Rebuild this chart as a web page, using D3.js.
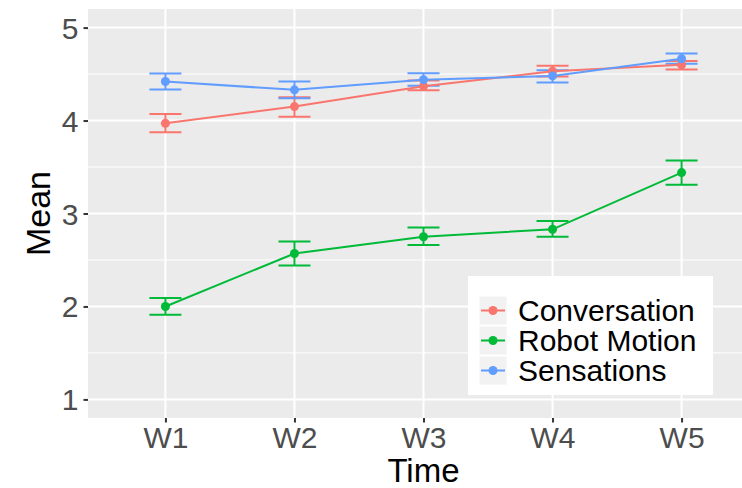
<!DOCTYPE html>
<html>
<head>
<meta charset="utf-8">
<script src="https://cdn.jsdelivr.net/npm/d3@7"></script>
<style>
  body { margin: 0; background: #fff; }
  text { font-family: "Liberation Sans", Arial, sans-serif; }
</style>
</head>
<body>
<div id="chart"></div>
<script>
// data
const weeks = ["W1", "W2", "W3", "W4", "W5"];
const groups = ["Conversation", "Robot Motion", "Sensations"];
const groupColors = ["#F8766D", "#00BA38", "#619CFF"];
const yTicks = [1, 2, 3, 4, 5];

const convMean  = [3.97, 4.15, 4.37, 4.53, 4.60];
const convLow   = [3.875, 4.04, 4.325, 4.475, 4.55];
const convHigh  = [4.07, 4.25, 4.43, 4.59, 4.64];

const robotMean = [2.00, 2.57, 2.75, 2.83, 3.44];
const robotLow  = [1.91, 2.44, 2.66, 2.75, 3.31];
const robotHigh = [2.09, 2.70, 2.85, 2.92, 3.57];

const sensMean  = [4.42, 4.33, 4.44, 4.48, 4.665];
const sensLow   = [4.335, 4.24, 4.375, 4.41, 4.61];
const sensHigh  = [4.505, 4.42, 4.51, 4.54, 4.72];

const series = [
    {name: groups[0], color: groupColors[0], mean: convMean, low: convLow, high: convHigh},
    {name: groups[1], color: groupColors[1], mean: robotMean, low: robotLow, high: robotHigh},
    {name: groups[2], color: groupColors[2], mean: sensMean, low: sensLow, high: sensHigh}
];

const W = 742, H = 488;
const panel = {left: 88, top: 9, right: 759, bottom: 418};

const svg = d3.select("#chart")
              .append("svg")
              .attr("width", W)
              .attr("height", H);

const x = d3.scalePoint().domain(weeks).range([panel.left, panel.right]).padding(0.6);
const y = d3.scaleLinear().domain([0.8, 5.2]).range([panel.bottom, panel.top]);

// panel background
svg.append("rect")
   .attr("x", panel.left)
   .attr("y", panel.top)
   .attr("width", panel.right - panel.left)
   .attr("height", panel.bottom - panel.top)
   .attr("fill", "#EBEBEB");

// minor grid
svg.append("g").selectAll("line")
   .data(yTicks.slice(0, -1).map(d => d + 0.5))
   .join("line")
   .attr("x1", panel.left).attr("x2", panel.right)
   .attr("y1", d => y(d)).attr("y2", d => y(d))
   .attr("stroke", "#fff").attr("stroke-width", 1);

// major grid
svg.append("g").selectAll("line")
   .data(yTicks)
   .join("line")
   .attr("x1", panel.left).attr("x2", panel.right)
   .attr("y1", d => y(d)).attr("y2", d => y(d))
   .attr("stroke", "#fff").attr("stroke-width", 2);

svg.append("g").selectAll("line")
   .data(weeks)
   .join("line")
   .attr("x1", d => x(d)).attr("x2", d => x(d))
   .attr("y1", panel.top).attr("y2", panel.bottom)
   .attr("stroke", "#fff").attr("stroke-width", 2);

// axes
const yAxis = d3.axisLeft(y).tickValues(yTicks).tickSize(4.5).tickPadding(5).tickFormat(d3.format("d"));
const xAxis = d3.axisBottom(x).tickSize(4.5).tickPadding(4);

const gy = svg.append("g")
   .attr("transform", `translate(${panel.left},0)`)
   .call(yAxis);
const gx = svg.append("g")
   .attr("transform", `translate(0,${panel.bottom})`)
   .call(xAxis);

[gx, gy].forEach(g => {
    g.select(".domain").remove();
    g.selectAll(".tick line").attr("stroke", "#333333").attr("stroke-width", 2);
    g.selectAll(".tick text")
     .attr("fill", "#4D4D4D")
     .style("font-size", "30px")
     .style("font-family", "'Liberation Sans', Arial, sans-serif");
});
gx.selectAll(".tick text").attr("dy", "0.71em");
gy.selectAll(".tick text").attr("dy", "0.35em");

// axis titles
svg.append("text")
   .attr("x", (panel.left + panel.right) / 2)
   .attr("y", 482)
   .attr("text-anchor", "middle")
   .style("font-size", "33px")
   .text("Time");

svg.append("text")
   .attr("transform", `translate(50,${(panel.top + panel.bottom) / 2}) rotate(-90)`)
   .attr("text-anchor", "middle")
   .style("font-size", "34px")
   .text("Mean");

// error bars, lines, points
const line = d3.line().x((d, i) => x(weeks[i])).y(d => y(d));
const capHalf = 16;

series.forEach(s => {
    const g = svg.append("g");
    weeks.forEach((w, i) => {
        const cx = x(w);
        g.append("line")
         .attr("x1", cx).attr("x2", cx)
         .attr("y1", y(s.low[i])).attr("y2", y(s.high[i]))
         .attr("stroke", s.color).attr("stroke-width", 2);
        [s.low[i], s.high[i]].forEach(v => {
            g.append("line")
             .attr("x1", cx - capHalf).attr("x2", cx + capHalf)
             .attr("y1", y(v)).attr("y2", y(v))
             .attr("stroke", s.color).attr("stroke-width", 2);
        });
    });
});

series.forEach(s => {
    svg.append("path")
       .datum(s.mean)
       .attr("d", line)
       .attr("fill", "none")
       .attr("stroke", s.color)
       .attr("stroke-width", 2);
});

series.forEach(s => {
    svg.append("g").selectAll("circle")
       .data(s.mean)
       .join("circle")
       .attr("cx", (d, i) => x(weeks[i]))
       .attr("cy", d => y(d))
       .attr("r", 4.5)
       .attr("fill", s.color);
});

// legend
const legend = svg.append("g").attr("transform", "translate(468,276)");
legend.append("rect")
      .attr("width", 245).attr("height", 119)
      .attr("fill", "#fff");

series.forEach((s, i) => {
    const row = legend.append("g").attr("transform", `translate(11,${20 + i * 30})`);
    row.append("rect")
       .attr("width", 28).attr("height", 29)
       .attr("fill", "#F2F2F2")
       .attr("stroke", "#fff").attr("stroke-width", 1);
    row.append("line")
       .attr("x1", 2).attr("x2", 26)
       .attr("y1", 14.5).attr("y2", 14.5)
       .attr("stroke", s.color).attr("stroke-width", 2);
    row.append("circle")
       .attr("cx", 14).attr("cy", 14.5).attr("r", 4.5)
       .attr("fill", s.color);
    row.append("text")
       .attr("x", 39).attr("y", 14.5)
       .attr("dy", "0.35em")
       .style("font-size", "30px")
       .attr("fill", "#000")
       .text(s.name);
});
</script>
</body>
</html>
